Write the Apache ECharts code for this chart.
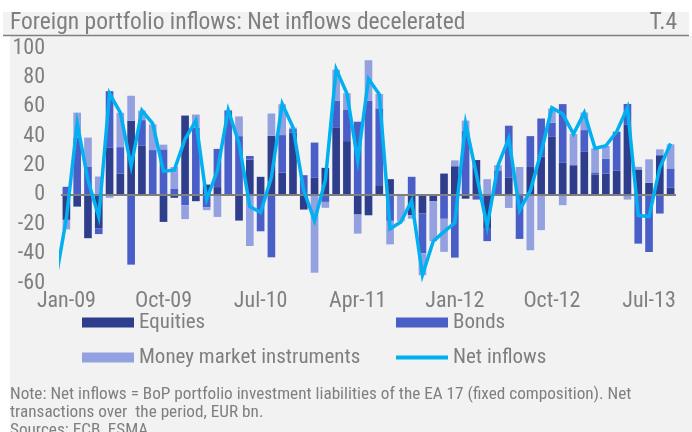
<!DOCTYPE html>
<html>
<head>
<meta charset="utf-8">
<script src="https://cdn.jsdelivr.net/npm/echarts@6/dist/echarts.min.js"></script>
<style>
  html, body { margin: 0; padding: 0; background: #ffffff; }
  #chart { width: 692px; height: 432px; }
</style>
</head>
<body>
<div id="chart"></div>
<script>
// Monthly periods, Jan-09 .. Sep-13
const months = [
  'Jan-09','Feb-09','Mar-09','Apr-09','May-09','Jun-09','Jul-09','Aug-09','Sep-09','Oct-09','Nov-09','Dec-09',
  'Jan-10','Feb-10','Mar-10','Apr-10','May-10','Jun-10','Jul-10','Aug-10','Sep-10','Oct-10','Nov-10','Dec-10',
  'Jan-11','Feb-11','Mar-11','Apr-11','May-11','Jun-11','Jul-11','Aug-11','Sep-11','Oct-11','Nov-11','Dec-11',
  'Jan-12','Feb-12','Mar-12','Apr-12','May-12','Jun-12','Jul-12','Aug-12','Sep-12','Oct-12','Nov-12','Dec-12',
  'Jan-13','Feb-13','Mar-13','Apr-13','May-13','Jun-13','Jul-13','Aug-13','Sep-13'
];

// Net transactions, EUR bn
const equities = [
  -17, -8, -29.5, -22.7, 32, 14.5, 50.5, 33.4, 0, -18.4, -2, 54,
  -4.3, 7, 5.3, 0, -17.5, 24, 12.3, 40.2, 15.2, 42.3, -10, 11.6,
  18.4, 46, 36.6, -13.4, -13.9, 6.6, 10.7, 0, -13.9, -12.7, -4.2, 14.5,
  19.5, -2.6, 23.7, -22.5, 0, 11.6, 0, 19, 26, 39.5, 21.8, 20.2,
  29.3, 13.9, 14.5, 16.4, 48, 17.3, 8.2, 27, 4.8
];
const bonds = [
  5.5, 39, 19, -4, 38.6, 18, -47.5, 17.5, 30.5, 31, 4, -7,
  45.7, -8.4, 26, 57.5, 40, 2.5, -24.8, -42.5, 25.5, 2.5, 13.4, 24,
  -4.8, 18.2, 21.6, 49.8, 64, 52.3, -17.7, 0, 12.3, -27, 0, -16.3,
  -42.7, 43.4, -3.2, -9, 16.7, 35.5, -30, 21, 26, 9.5, 40, 0,
  14.8, 1.4, 10.2, 26.6, 13.9, -33.2, -38.9, -12.7, 13.2
];
const moneyMarket = [
  -6.5, 17, 20, 12.5, -2, 23.4, 17, 6.5, 17.5, 3.2, 15, -9.5,
  9, -2, -15, 0, 13.4, -34.8, 0, 15.2, 21, 1, 0, -53,
  -4, 21, 11, -13, 27.7, 9.8, -16, -18, -2.3, -15, -27.3, -22.5,
  4, 7.2, 0, 10.7, 3.5, -8.9, 19, -37.7, -24, 9.8, -7, 21.2,
  12, 16.4, 8.6, 0, -3.2, 1.8, 16, 4, 16.4
];
const netInflows = [
  -16, 48.6, 10, -15, 69, 56, 19.5, 57.5, 48.5, 16, 17, 38,
  50.5, -3, 16.5, 57.7, 35, -8, -12, 12, 62, 46, 3, -17.5,
  10, 85.5, 69, 23.5, 79, 68.5, -23, -18.5, -4, -54.5, -31.5, -25,
  -19, 48.5, 14, -21.5, 20, 38.5, -10.5, 3, 29, 59.3, 55, 41.4,
  56, 31.6, 33.4, 43, 59.3, -14, -14.8, 18.5, 35
];
// Dec-08 value: the line enters the plot from the month before the first bar
const netInflowPrior = -58;

const yTicks = { min: -60, max: 100, step: 20 };

const NARROW = "'Liberation Sans Narrow', 'Arial Narrow', 'Roboto Condensed', 'DejaVu Sans Condensed', sans-serif";
const GREY = '#7f7f7f';
const C_EQ = '#2e3d8c';
const C_BD = '#4a5ec8';
const C_MM = '#93a1e0';
const C_NET = '#00b0f0';

const notes = [
  'Note: Net inflows = BoP portfolio investment liabilities of the EA 17 (fixed composition). Net',
  'transactions over  the period, EUR bn.',
  'Sources: ECB, ESMA'
];

const chart = echarts.init(document.getElementById('chart'), null, { renderer: 'canvas' });

const barSeries = (name, data, color) => ({
  name, type: 'bar', stack: 'flows', data,
  xAxisIndex: 0, yAxisIndex: 0,
  barCategoryGap: '29%',
  itemStyle: { color },
  emphasis: { disabled: true },
  z: 2
});

const legendText = { color: GREY, fontSize: 21, fontFamily: NARROW };

const option = {
  animation: false,
  backgroundColor: '#f2f2f2',
  textStyle: { fontFamily: NARROW },
  grid: { left: 61, right: 16, top: 48, bottom: 149, containLabel: false },
  xAxis: [
    {
      type: 'category', data: months, boundaryGap: true,
      axisLine: { show: false }, axisTick: { show: false },
      axisLabel: { interval: 8, color: GREY, fontSize: 22, fontFamily: NARROW, margin: 7 },
      splitLine: { show: false }
    },
    {
      type: 'value', min: -0.5, max: months.length - 0.5, show: false
    }
  ],
  yAxis: {
    type: 'value', min: yTicks.min, max: yTicks.max, interval: yTicks.step,
    axisLine: { show: false }, axisTick: { show: false },
    axisLabel: { color: GREY, fontSize: 22, fontFamily: NARROW, margin: 16 },
    splitLine: { show: false }
  },
  legend: [
    {
      orient: 'vertical', left: 82, top: 312, itemGap: 14, padding: 0,
      itemWidth: 52, itemHeight: 10, icon: 'rect',
      data: ['Equities', 'Money market instruments'],
      textStyle: legendText,
      selectedMode: false
    },
    {
      orient: 'vertical', left: 394, top: 312, itemGap: 14, padding: 0,
      itemWidth: 52, itemHeight: 10,
      data: [
        { name: 'Bonds', icon: 'rect' },
        { name: 'Net inflows', itemStyle: { opacity: 0 } }
      ],
      lineStyle: { width: 4 },
      textStyle: legendText,
      selectedMode: false
    }
  ],
  series: [
    Object.assign(barSeries('Equities', equities, C_EQ), {
      markLine: {
        silent: true, symbol: 'none', z: 4,
        label: { show: false },
        lineStyle: { color: GREY, width: 2, type: 'solid' },
        data: [{ yAxis: 0 }]
      }
    }),
    barSeries('Bonds', bonds, C_BD),
    barSeries('Money market instruments', moneyMarket, C_MM),
    {
      name: 'Net inflows', type: 'line',
      xAxisIndex: 1, yAxisIndex: 0,
      data: [[-1, netInflowPrior]].concat(netInflows.map((v, i) => [i, v])),
      symbol: 'none', clip: true,
      lineStyle: { color: C_NET, width: 3.5, join: 'miter' },
      itemStyle: { color: C_NET },
      emphasis: { disabled: true },
      z: 6
    }
  ],
  graphic: [
    // white margins around the grey panel
    { type: 'rect', shape: { x: 0, y: 0, width: 692, height: 12 }, style: { fill: '#ffffff' }, silent: true },
    { type: 'rect', shape: { x: 0, y: 0, width: 3, height: 432 }, style: { fill: '#ffffff' }, silent: true },
    { type: 'rect', shape: { x: 0, y: 36, width: 10, height: 396 }, style: { fill: '#ffffff' }, silent: true },
    { type: 'rect', shape: { x: 689, y: 0, width: 3, height: 36 }, style: { fill: '#ffffff' }, silent: true },
    // title bar
    { type: 'text', left: 10, top: 11, silent: true,
      style: { text: 'Foreign portfolio inflows: Net inflows decelerated', fill: GREY, font: '23.5px ' + NARROW } },
    { type: 'text', right: 15, top: 11, silent: true,
      style: { text: 'T.4', fill: GREY, font: '23.5px ' + NARROW } },
    { type: 'line', shape: { x1: 3, y1: 35.5, x2: 689, y2: 35.5 }, style: { stroke: GREY, lineWidth: 1.5 }, silent: true },
    // notes
    { type: 'text', left: 10, top: 386, silent: true,
      style: { text: notes.join('\n'), fill: GREY, font: '17.2px ' + NARROW, lineHeight: 18 } }
  ]
};

chart.setOption(option);
</script>
</body>
</html>
